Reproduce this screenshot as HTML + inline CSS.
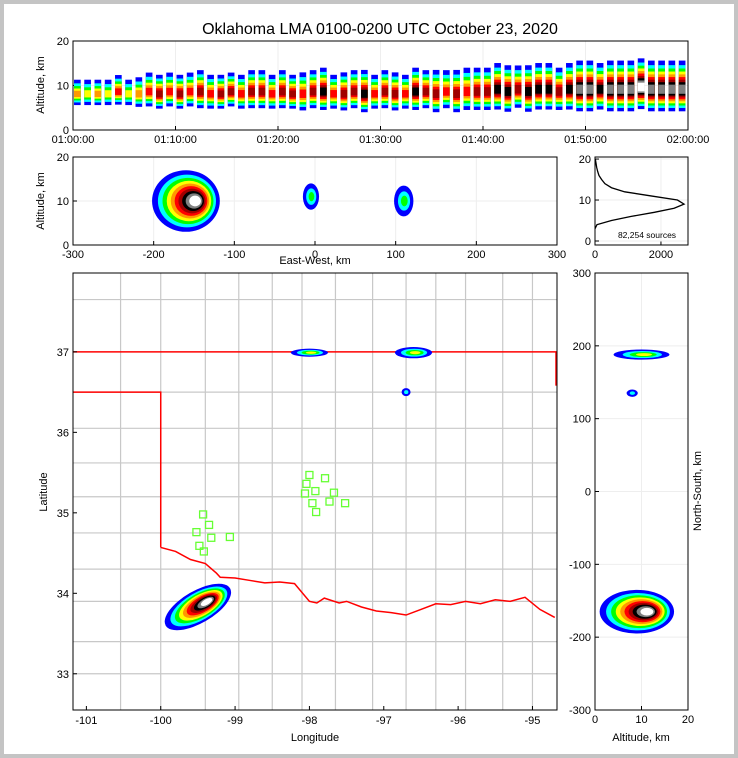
<!DOCTYPE html>
<html><head><meta charset="utf-8"><style>
html,body{margin:0;padding:0;background:#fff}
svg{display:block;font-family:"Liberation Sans",sans-serif}
</style></head><body>
<svg id="c" width="738" height="758" viewBox="0 0 738 758" xmlns="http://www.w3.org/2000/svg">
<rect x="0" y="0" width="738" height="758" fill="#c4c4c4"/>
<rect x="4" y="4" width="730" height="750" fill="#fff"/>
<text x="380" y="34" font-size="16" text-anchor="middle">Oklahoma LMA 0100-0200 UTC October 23, 2020</text>
<g id="g"></g>
</svg>
<script>
// ---- data ----
const timeTickLabels = ["01:00:00","01:10:00","01:20:00","01:30:00","01:40:00","01:50:00","02:00:00"];
const minuteCenterAlt = [8,8,8,8,8.5,8,8,8.5,8,8.5,8,8.5,8.5,8,8,8.5,8,8.5,8.5,8,8.5,8,8,8.5,8.5,8,8,8.5,8,8,8.5,8,8,8.5,8.5,8,8.5,8,8.5,8.5,8.5,9,8.5,9,8.5,9,9,8.5,9,9,9,9,9,9,9,9.5,9,9,9,9];
const minuteLevel = [4,3,4,3,5,3,4,5,6,5,6,5,6,5,6,6,5,6,6,5,6,6,5,6,7,5,6,6,7,5,6,6,5,7,6,6,5,6,5,6,6,7,7,6,7,7,7,6,7,8,8,7,8,8,8,9,8,8,8,8];
const minuteSpread = [3,3,3,3,3.5,3,3.5,4,4,4,4,4,4.5,4,4,4,4,4.5,4.5,4,4.5,4,4.5,4.5,5,4,4.5,4.5,5,4,4.5,4.5,4,5,4.5,5,4.5,5,5,5,5,5.5,5.5,5,5.5,5.5,5.5,5,5.5,6,6,5.5,6,6,6,6,6,6,6,6];
const histAlt = [3,4,5,6,7,8,9,10,11,12,13,14,15,16,17,18,19,20];
const histCount = [0,60,500,1100,1800,2400,2700,2500,1700,900,500,300,200,120,80,50,30,10];
// clusters: [x, y, rx, ry, level, tilt]
const ewClusters = [[-160,10,42,7,9,0],[-5,11,10,3,2,0],[110,10,12,3.5,2,0]];
const nsClusters = [[9,-165,8,30,9,0],[10,188,6,7,3,0],[8,135,1.2,5,1,0]];
const mapClusters = [[-99.5,33.83,0.5,0.2,9,-30],[-98.0,36.99,0.25,0.05,3,0],[-96.6,36.99,0.25,0.07,3,0],[-96.7,36.5,0.06,0.05,1,0]];
const stationLon = [-99.43,-99.35,-99.52,-99.32,-99.48,-99.42,-99.07,-98.00,-98.04,-98.06,-97.92,-97.79,-97.67,-97.73,-97.96,-97.91,-97.52];
const stationLat = [34.98,34.85,34.76,34.69,34.59,34.52,34.70,35.47,35.36,35.24,35.27,35.43,35.25,35.14,35.12,35.01,35.12];
const redRiverLon = [-100,-99.8,-99.6,-99.4,-99.25,-99.2,-99.0,-98.8,-98.6,-98.4,-98.2,-98.0,-97.9,-97.8,-97.6,-97.5,-97.3,-97.1,-96.9,-96.7,-96.5,-96.3,-96.1,-95.9,-95.7,-95.5,-95.3,-95.1,-94.9,-94.7];
const redRiverLat = [34.57,34.52,34.42,34.37,34.25,34.2,34.19,34.16,34.13,34.14,34.12,33.9,33.88,33.94,33.88,33.9,33.83,33.78,33.76,33.73,33.8,33.87,33.86,33.9,33.87,33.92,33.9,33.95,33.8,33.7];
const countyLonLines = [-100.54,-100.0,-99.4,-98.95,-98.5,-98.1,-97.65,-97.15,-96.7,-96.3,-95.9,-95.4,-95.0];
const countyLatLines = [37.65,36.5,36.05,35.62,35.2,34.75,34.3,33.9,33.4,33.0];
const ewTicks = [-300,-200,-100,0,100,200,300];
const altTicks = [0,10,20];
const lonTicks = [-101,-100,-99,-98,-97,-96,-95];
const latTicks = [33,34,35,36,37];
const nsTicks = [-300,-200,-100,0,100,200,300];
const histTicks = [0,2000];

const NS="http://www.w3.org/2000/svg";
const G=document.getElementById('g');
const ramp=['#0000ff','#00ffff','#00ff00','#ffff00','#ff9900','#ff0000','#a00000','#000000','#808080','#ffffff'];
function el(t,a,p){const e=document.createElementNS(NS,t);for(const k in a)e.setAttribute(k,a[k]);(p||G).appendChild(e);return e;}
function lin(d0,d1,r0,r1){return v=>r0+(v-d0)/(d1-d0)*(r1-r0);}

const P={top:[73,41,688,130],ew:[73,157,557,245],hist:[595,157,688,245],map:[73,273,557,710],ns:[595,273,688,710]};
function clip(id,b){const cp=el('clipPath',{id:id});el('rect',{x:b[0],y:b[1],width:b[2]-b[0],height:b[3]-b[1]},cp);return 'url(#'+id+')';}
function frame(b,name){const r=el('rect',{x:b[0],y:b[1],width:b[2]-b[0],height:b[3]-b[1],fill:'none',stroke:'#000','stroke-width':1});

}
function xTicks(b,ticks,sx,labels,name){ticks.forEach((t,i)=>{const x=sx(t);
el('line',{x1:x,y1:b[1],x2:x,y2:b[3],stroke:'#eee','stroke-width':1});
el('line',{x1:x,y1:b[3],x2:x,y2:b[3]-4,stroke:'#000'});
const tx=el('text',{x:x,y:b[3]+13,'font-size':11,'text-anchor':'middle'});tx.textContent=labels?labels[i]:t;

});}
function yTicks(b,ticks,sy,name){ticks.forEach(t=>{const y=sy(t);
el('line',{x1:b[0],y1:y,x2:b[2],y2:y,stroke:'#eee','stroke-width':1});
el('line',{x1:b[0],y1:y,x2:b[0]+4,y2:y,stroke:'#000'});
const tx=el('text',{x:b[0]-4,y:y+4,'font-size':11,'text-anchor':'end'});tx.textContent=t;

});}
function label(x,y,s,rot,name){const t=el('text',{x:x,y:y,'font-size':11,'text-anchor':'middle'});if(rot)t.setAttribute('transform','rotate(-90 '+x+' '+y+')');t.textContent=s;

}
function blob(c,sx,sy,cp,name){const g=el('g',{'clip-path':cp});


const cx=sx(c[0]),cy=sy(c[1]),rx=Math.abs(sx(c[0]+c[2])-cx),ry=Math.abs(sy(c[1]+c[3])-cy),L=c[4];
for(let k=0;k<=L;k++){const f=1-Math.pow(k/(L+1),0.8)*0.9;
el('ellipse',{cx:cx+(k*rx*0.03),cy:cy,rx:rx*f,ry:ry*f,fill:ramp[k],transform:'rotate('+c[5]+' '+cx+' '+cy+')'},g);}}

// ---- top panel: time-height ----
(function(){const b=P.top,sx=lin(0,60,b[0],b[2]),sy=lin(0,20,b[3],b[1]);
xTicks(b,[0,10,20,30,40,50,60],sx,timeTickLabels,'time-tick-label');yTicks(b,altTicks,sy,'alt-tick-label');
const cp=clip('cTop',b);const g=el('g',{'clip-path':cp});


minuteCenterAlt.forEach((a,i)=>{const L=minuteLevel[i],s=minuteSpread[i];
for(let k=0;k<=L;k++){const f=1-Math.pow(k/(L+1),0.8)*0.9;const y0=sy(a+s*f*1.1),y1=sy(a-s*f*0.8);
const w=(sx(i+1)-sx(i));
el('rect',{x:sx(i)+w*0.1,y:y0,width:w*0.65,height:y1-y0,fill:ramp[k]},g);}});
frame(b,'time-height-panel');label(44,85,'Altitude, km',true,'top-y-axis-title');})();

// ---- EW panel ----
(function(){const b=P.ew,sx=lin(-300,300,b[0],b[2]),sy=lin(0,20,b[3],b[1]);
xTicks(b,ewTicks,sx,null,'ew-tick-label');yTicks(b,altTicks,sy,'ew-alt-tick-label');
const cp=clip('cEw',b);ewClusters.forEach(c=>blob(c,sx,sy,cp,'ew-cluster'));
frame(b,'east-west-panel');label(44,201,'Altitude, km',true,'ew-y-axis-title');label(315,264,'East-West, km',false,'ew-x-axis-title');})();

// ---- histogram ----
(function(){const b=P.hist,sx=lin(0,2820,b[0],b[2]),sy=lin(0,20.5,b[3]-4,b[1]);
xTicks(b,histTicks,sx,null,'hist-tick-label');
altTicks.forEach(t=>{const y=sy(t);el('line',{x1:b[0],y1:y,x2:b[2],y2:y,stroke:'#eee'});el('line',{x1:b[0],y1:y,x2:b[0]+4,y2:y,stroke:'#000'});
const tx=el('text',{x:b[0]-4,y:y+4,'font-size':11,'text-anchor':'end'});tx.textContent=t;

});
const pts=histAlt.map((a,i)=>sx(histCount[i])+','+sy(a)).join(' ');
const pl=el('polyline',{points:pts,fill:'none',stroke:'#000','stroke-width':1.3,'clip-path':clip('cH',b)});


const t=el('text',{x:647,y:238,'font-size':8.5,'text-anchor':'middle'});t.textContent='82,254 sources';


frame(b,'histogram-panel');})();

// ---- map ----
(function(){const b=P.map,sx=lin(-101.18,-94.67,b[0],b[2]),sy=lin(37.98,32.55,b[1],b[3]);
const cp=clip('cMap',b);const gc=el('g',{'clip-path':cp,stroke:'#c8c8c8','stroke-width':1.2,fill:'none'});


countyLonLines.forEach(l=>el('line',{x1:sx(l),y1:b[1],x2:sx(l),y2:b[3]},gc));
countyLatLines.forEach(l=>el('line',{x1:b[0],y1:sy(l),x2:b[2],y2:sy(l)},gc));
const sg=el('g',{'clip-path':cp,stroke:'#ff0000','stroke-width':1.5,fill:'none'});


el('line',{x1:b[0],y1:sy(37),x2:b[2],y2:sy(37)},sg);
el('polyline',{points:[[b[0],sy(36.5)],[sx(-100),sy(36.5)],[sx(-100),sy(34.57)]].map(p=>p.join(',')).join(' ')},sg);
el('line',{x1:b[2]-1,y1:sy(37),x2:b[2]-1,y2:sy(36.58)},sg);
el('polyline',{points:redRiverLon.map((l,i)=>sx(l)+','+sy(redRiverLat[i])).join(' ')},sg);
mapClusters.forEach(c=>blob(c,sx,sy,cp,'map-lightning-cluster'));
stationLon.forEach((l,i)=>{const r=el('rect',{x:sx(l)-3.5,y:sy(stationLat[i])-3.5,width:7,height:7,fill:'none',stroke:'#66ff33','stroke-width':1.3});

});
lonTicks.forEach(t=>{const x=sx(t);el('line',{x1:x,y1:b[3],x2:x,y2:b[3]-4,stroke:'#000'});const tx=el('text',{x:x,y:b[3]+14,'font-size':11,'text-anchor':'middle'});tx.textContent=t;

});
latTicks.forEach(t=>{const y=sy(t);el('line',{x1:b[0],y1:y,x2:b[0]+4,y2:y,stroke:'#000'});const tx=el('text',{x:b[0]-4,y:y+4,'font-size':11,'text-anchor':'end'});tx.textContent=t;

});
frame(b,'map-panel');label(315,741,'Longitude',false,'map-x-axis-title');label(47,492,'Latitude',true,'map-y-axis-title');})();

// ---- NS panel ----
(function(){const b=P.ns,sx=lin(0,20,b[0],b[2]),sy=lin(-300,300,b[3],b[1]);
xTicks(b,[0,10,20],sx,null,'ns-alt-tick-label');
nsTicks.forEach(t=>{const y=sy(t);el('line',{x1:b[0],y1:y,x2:b[2],y2:y,stroke:'#eee'});el('line',{x1:b[0],y1:y,x2:b[0]+4,y2:y,stroke:'#000'});
const tx=el('text',{x:b[0]-4,y:y+4,'font-size':11,'text-anchor':'end'});tx.textContent=t;

});
const cp=clip('cNs',b);nsClusters.forEach(c=>blob(c,sx,sy,cp,'ns-cluster'));
frame(b,'north-south-panel');label(641,741,'Altitude, km',false,'ns-x-axis-title');label(701,491,'North-South, km',true,'ns-y-axis-title');})();
</script>
</body></html>
